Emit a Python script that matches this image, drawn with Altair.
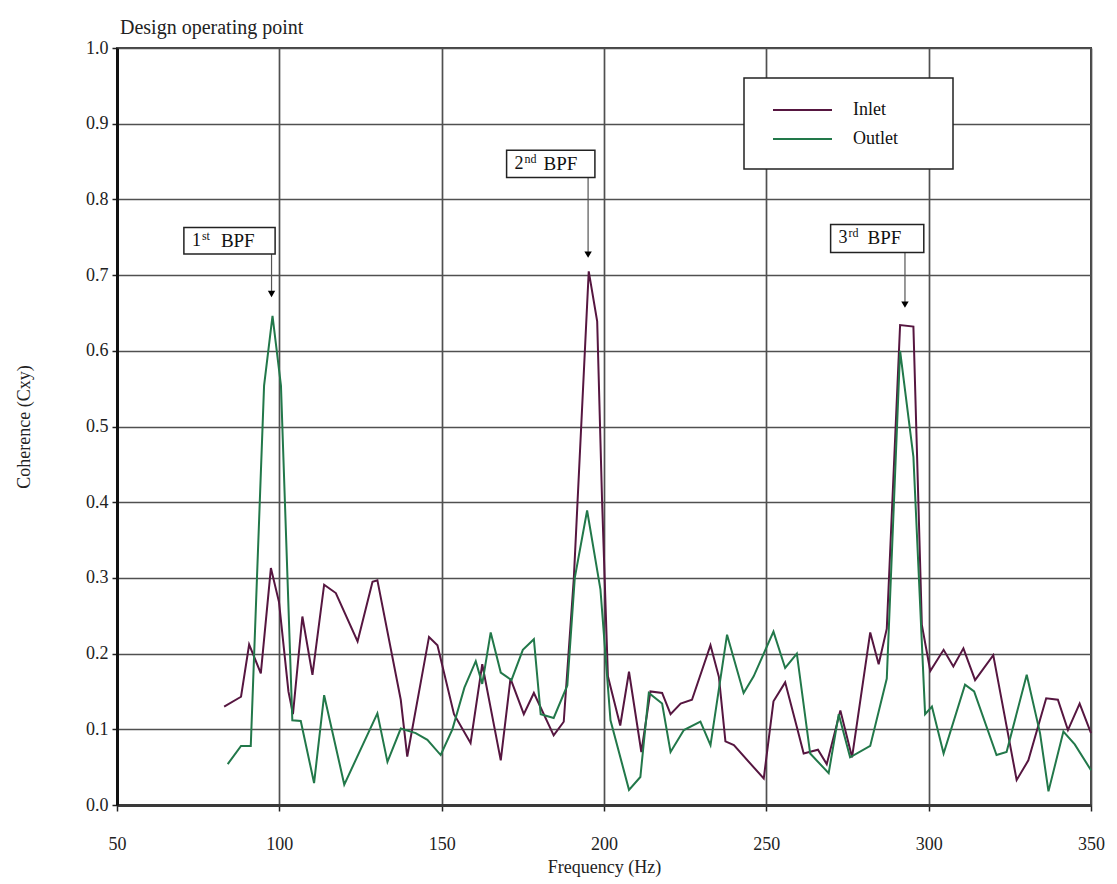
import altair as alt
import pandas as pd

# Coherence spectra (frequency in Hz, coherence Cxy)
inlet_hz = [83.0, 88.2, 90.7, 94.3, 97.4, 99.9, 102.8, 104.2, 107.1, 110.2, 113.8, 117.4,
            124.1, 128.7, 130.2, 137.4, 139.4, 146.1, 148.7, 153.8, 158.9, 162.5, 168.2,
            171.2, 175.3, 178.4, 184.5, 187.6, 190.7, 195.3, 197.9, 199.4, 201.2, 205.0,
            207.7, 211.5, 214.3, 217.9, 220.5, 223.6, 227.1, 232.8, 235.4, 237.4, 240.0,
            249.2, 252.2, 255.8, 259.4, 261.5, 265.9, 268.6, 272.8, 276.4, 282.0, 284.6,
            287.1, 291.2, 295.3, 297.9, 300.5, 304.6, 307.6, 310.7, 314.3, 319.9, 327.1,
            330.7, 336.2, 339.8, 342.9, 346.5, 350.0]
inlet_coh = [0.13, 0.143, 0.212, 0.174, 0.313, 0.268, 0.15, 0.12, 0.249, 0.172, 0.291, 0.28,
             0.216, 0.295, 0.297, 0.139, 0.064, 0.222, 0.211, 0.12, 0.082, 0.186, 0.059,
             0.167, 0.12, 0.148, 0.092, 0.11, 0.299, 0.705, 0.639, 0.403, 0.17, 0.105,
             0.176, 0.07, 0.15, 0.148, 0.12, 0.134, 0.139, 0.211, 0.169, 0.084, 0.079,
             0.035, 0.137, 0.162, 0.103, 0.068, 0.073, 0.054, 0.125, 0.063, 0.228, 0.186,
             0.233, 0.634, 0.632, 0.238, 0.177, 0.205, 0.183, 0.207, 0.165, 0.198, 0.033,
             0.059, 0.141, 0.139, 0.099, 0.134, 0.095]

outlet_hz = [84.1, 88.2, 91.2, 95.3, 97.9, 100.5, 104.0, 106.6, 110.7, 113.8, 120.0, 130.2,
             133.3, 137.4, 142.0, 145.6, 149.7, 153.3, 157.0, 160.5, 162.5, 165.1, 168.2,
             171.5, 175.0, 178.4, 180.5, 184.5, 188.7, 191.0, 194.8, 198.9, 202.0, 207.7,
             211.2, 213.8, 217.9, 220.5, 224.6, 229.7, 232.8, 237.9, 243.0, 246.1, 252.2,
             255.8, 259.4, 263.5, 269.2, 272.3, 275.8, 282.0, 287.1, 291.2, 295.3, 298.9,
             301.0, 304.6, 311.2, 314.0, 320.9, 324.0, 330.2, 334.3, 336.9, 341.5, 345.0,
             350.0]
outlet_coh = [0.054, 0.078, 0.078, 0.554, 0.646, 0.554, 0.112, 0.111, 0.029, 0.145, 0.027,
              0.121, 0.057, 0.101, 0.095, 0.086, 0.066, 0.10, 0.155, 0.19, 0.16, 0.228,
              0.175, 0.165, 0.205, 0.219, 0.12, 0.115, 0.158, 0.30, 0.389, 0.285, 0.112,
              0.02, 0.037, 0.148, 0.134, 0.07, 0.099, 0.11, 0.079, 0.225, 0.148, 0.17,
              0.229, 0.181, 0.2, 0.068, 0.042, 0.12, 0.063, 0.078, 0.167, 0.60, 0.46, 0.12,
              0.13, 0.068, 0.159, 0.15, 0.066, 0.07, 0.172, 0.095, 0.018, 0.097, 0.08,
              0.046]

series_names = ["Inlet", "Outlet"]
series_colors = ["#561640", "#22784a"]

# Blade passing frequency call-outs
bpf_hz = [97.6, 195.1, 292.7]
bpf_tip = [0.668, 0.720, 0.654]
bpf_box_x1 = [70.6, 170.0, 269.8]
bpf_box_x2 = [98.7, 197.2, 298.5]
bpf_box_y1 = [0.728, 0.829, 0.730]
bpf_box_y2 = [0.763, 0.865, 0.767]
bpf_num = ["1", "2", "3"]
bpf_suffix = ["st", "nd", "rd"]

x_ticks = [50, 100, 150, 200, 250, 300, 350]
y_ticks = [0.0, 0.1, 0.2, 0.3, 0.4, 0.5, 0.6, 0.7, 0.8, 0.9, 1.0]

SERIF = "Liberation Serif"

df = pd.concat([
    pd.DataFrame({"freq": inlet_hz, "coh": inlet_coh, "series": series_names[0]}),
    pd.DataFrame({"freq": outlet_hz, "coh": outlet_coh, "series": series_names[1]}),
])
ann = pd.DataFrame({
    "hz": bpf_hz, "tip": bpf_tip,
    "tip_head": [t + 0.007 for t in bpf_tip],
    "x1": bpf_box_x1, "x2": bpf_box_x2, "y1": bpf_box_y1, "y2": bpf_box_y2,
    "ymid": [(a + b) / 2 for a, b in zip(bpf_box_y1, bpf_box_y2)],
    "num": bpf_num, "suffix": bpf_suffix, "label": ["BPF"] * 3,
})

x_scale = alt.Scale(domain=[50, 350], nice=False, zero=False)
y_scale = alt.Scale(domain=[0, 1], nice=False, zero=True)

lines = alt.Chart(df).mark_line(strokeWidth=2).encode(
    x=alt.X("freq:Q", scale=x_scale,
            axis=alt.Axis(values=x_ticks, format="d", title="Frequency (Hz)",
                          labelPadding=24, titlePadding=5, labelFlush=False,
                          domainColor="#3a3a3a", domainWidth=3, tickSize=6)),
    y=alt.Y("coh:Q", scale=y_scale,
            axis=alt.Axis(values=y_ticks, format=".1f", title="Coherence (Cxy)",
                          labelPadding=4, titlePadding=52, labelFlush=False,
                          domainColor="#111111", domainWidth=3, tickSize=5)),
    color=alt.Color("series:N", scale=alt.Scale(domain=series_names, range=series_colors),
                    legend=None),
)

base = alt.Chart(ann)
boxes = base.mark_rect(fill="white", stroke="#222222", strokeWidth=1.5).encode(
    x=alt.X("x1:Q", scale=x_scale), x2="x2:Q",
    y=alt.Y("y1:Q", scale=y_scale), y2="y2:Q",
)
stems = base.mark_rule(color="#555555", strokeWidth=1.2).encode(
    x=alt.X("hz:Q", scale=x_scale), y=alt.Y("y1:Q", scale=y_scale), y2="tip_head:Q",
)
heads = base.mark_point(shape="triangle-down", filled=True, color="#000000", size=55, opacity=1).encode(
    x=alt.X("hz:Q", scale=x_scale), y=alt.Y("tip_head:Q", scale=y_scale),
)
nums = base.mark_text(align="left", baseline="middle", font=SERIF, fontSize=18, dx=8, color="#111").encode(
    x=alt.X("x1:Q", scale=x_scale), y=alt.Y("ymid:Q", scale=y_scale), text="num:N",
)
sups = base.mark_text(align="left", baseline="middle", font=SERIF, fontSize=12, dx=18, dy=-5, color="#111").encode(
    x=alt.X("x1:Q", scale=x_scale), y=alt.Y("ymid:Q", scale=y_scale), text="suffix:N",
)
bpf_text = base.mark_text(align="left", baseline="middle", font=SERIF, fontSize=19, dx=37, color="#111").encode(
    x=alt.X("x1:Q", scale=x_scale), y=alt.Y("ymid:Q", scale=y_scale), text="label:N",
)

# Legend panel in the upper right of the plot area
one = pd.DataFrame({"k": [0]})
legend_layers = [
    alt.Chart(one).mark_rect(fill="white", stroke="#222222", strokeWidth=1.5).encode(
        x=alt.value(627), x2=alt.value(836), y=alt.value(30), y2=alt.value(121))
]
for i, (name, col) in enumerate(zip(series_names, series_colors)):
    yy = 62 + 29 * i
    legend_layers.append(
        alt.Chart(one).mark_rule(color=col, strokeWidth=2).encode(
            x=alt.value(656), x2=alt.value(715), y=alt.value(yy)))
    legend_layers.append(
        alt.Chart(one).mark_text(align="left", baseline="middle", font=SERIF, fontSize=18,
                                 color="#111").encode(
            x=alt.value(736), y=alt.value(yy), text=alt.value(name)))

chart = alt.layer(lines, stems, heads, boxes, nums, sups, bpf_text, *legend_layers).properties(
    width=974,
    height=757,
    title=alt.TitleParams("Design operating point", anchor="start", frame="group",
                          font=SERIF, fontSize=20, fontWeight="normal", color="#222",
                          offset=10, dx=3, dy=9),
    autosize=alt.AutoSizeParams(type="none"),
    padding={"left": 117, "top": 48, "right": 26, "bottom": 79},
).configure(
    background="white"
).configure_axis(
    grid=True,
    gridColor="#505050",
    gridWidth=1.7,
    gridOpacity=1,
    labelFont=SERIF,
    labelFontSize=18,
    labelColor="#222",
    titleFont=SERIF,
    titleFontSize=18,
    titleFontWeight="normal",
    titleColor="#222",
    tickColor="#222",
    tickWidth=1.5,
).configure_view(
    stroke="#444444", strokeWidth=2,
)

chart.save("out.html", embed_options={"renderer": "svg", "actions": False})
